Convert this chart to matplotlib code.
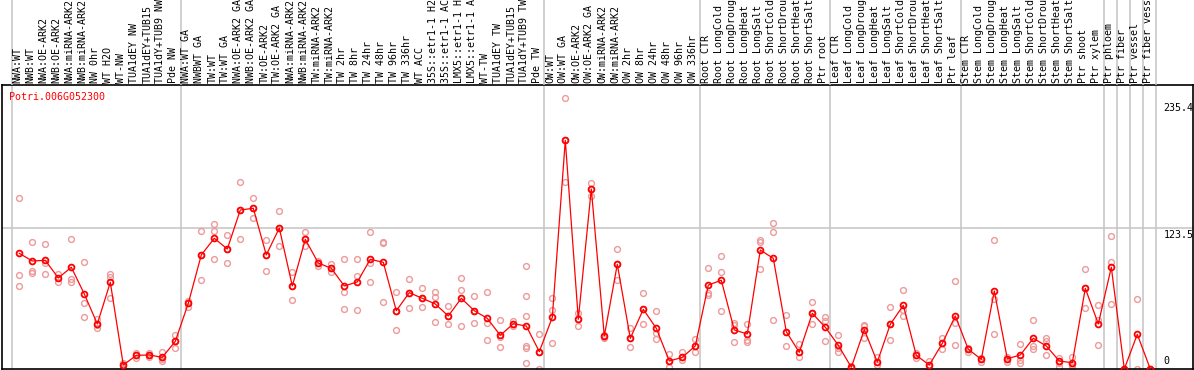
import matplotlib
matplotlib.use("Agg")
import matplotlib.pyplot as plt

gene = "Potri.006G052300"

labels = [
    "NWA:WT", "NWB:WT", "NWA:OE-ARK2", "NWB:OE-ARK2", "NWA:miRNA-ARK2",
    "NWB:miRNA-ARK2", "NW 0hr", "WT H2O", "WT-NW", "TUA1dEY NW",
    "TUA1dEY+TUB15", "TUA1dY+TUB9 NW", "Pde NW", "NWA:WT GA", "NWBWT GA",
    "TW:WT", "TW:WT GA", "NWA:OE-ARK2 GA", "NWB:OE-ARK2 GA", "TW:OE-ARK2",
    "TW:OE-ARK2 GA", "NWA:miRNA-ARK2", "NWB:miRNA-ARK2", "TW:miRNA-ARK2",
    "TW:miRNA-ARK2", "TW 2hr", "TW 8hr", "TW 24hr", "TW 48hr", "TW 96hr",
    "TW 336hr", "WT ACC", "35S::etr1-1 H2O", "35S::etr1-1 ACC",
    "LMX5::etr1-1 H2O", "LMX5::etr1-1 ACC", "WT-TW", "TUA1dEY TW",
    "TUA1dEY+TUB15", "TUA1dY+TUB9 TW", "Pde TW", "OW:WT", "OW:WT GA",
    "OW:OE-ARK2", "OW:OE-ARK2 GA", "OW:miRNA-ARK2", "OW:miRNA-ARK2",
    "OW 2hr", "OW 8hr", "OW 24hr", "OW 48hr", "OW 96hr", "OW 336hr",
    "Root CTR", "Root LongCold", "Root LongDrought", "Root LongHeat",
    "Root LongSalt", "Root ShortCold", "Root ShortDrought", "Root ShortHeat",
    "Root ShortSalt", "Ptr root", "Leaf CTR", "Leaf LongCold",
    "Leaf LongDrought", "Leaf LongHeat", "Leaf LongSalt", "Leaf ShortCold",
    "Leaf ShortDrought", "Leaf ShortHeat", "Leaf ShortSalt", "Ptr leaf",
    "Stem CTR", "Stem LongCold", "Stem LongDrought", "Stem LongHeat",
    "Stem LongSalt", "Stem ShortCold", "Stem ShortDrought", "Stem ShortHeat",
    "Stem ShortSalt", "Ptr shoot", "Ptr xylem", "Ptr phloem", "Ptr fiber",
    "Ptr vessel", "Ptr fiber vessel",
]

means = [
    101.4, 94.7, 95.3, 79.8, 89.2, 65.8, 39.5, 76.0, 3.5, 12.0,
    12.3, 10.2, 24.3, 57.6, 100.0, 114.6, 105.2, 139.4, 140.9, 100.0,
    123.6, 72.8, 113.7, 92.9, 88.3, 72.8, 76.3, 96.2, 93.5, 51.1,
    66.9, 62.0, 57.0, 46.5, 62.0, 51.1, 44.4, 29.5, 39.7, 37.7,
    15.2, 45.3, 200.5, 43.6, 157.8, 28.9, 91.8, 26.9, 52.3, 35.7,
    7.0, 10.2, 20.2, 73.6, 77.8, 34.2, 30.7, 104.3, 97.0, 32.7,
    14.6, 48.8, 36.6, 20.8, 1.5, 34.5, 6.1, 39.2, 55.8, 12.0,
    3.5, 22.5, 46.5, 17.3, 8.5, 68.4, 9.0, 12.3, 26.9, 20.2,
    7.0, 5.5, 70.7, 39.5, 89.2, 0.0, 30.4, 0.0,
]

reps = [
    [149.7, 82.4, 72.5], [111.1, 86.2, 84.5], [109.6, 93.2, 83.3],
    [83.3, 79.8, 76.3], [114.0, 78.9, 76.0], [93.8, 57.6, 45.3],
    [44.1, 39.0, 35.7], [83.3, 80.9, 62.0], [5.0, 3.5, 2.0],
    [13.7, 12.0, 9.4], [14.0, 12.3, 10.5], [14.5, 9.0, 7.0],
    [29.8, 24.5, 18.1], [59.9, 58.0, 54.1], [120.7, 100.0, 78.0],
    [127.1, 121.0, 96.2], [117.2, 105.5, 92.7], [163.7, 139.4, 113.7],
    [149.7, 140.9, 132.1], [112.8, 100.0, 85.9], [138.5, 123.6, 107.8],
    [84.8, 72.8, 60.5], [120.1, 113.7, 107.8], [95.0, 93.0, 90.6],
    [92.3, 88.3, 84.8], [96.2, 67.8, 52.3], [96.2, 81.5, 51.7],
    [119.8, 93.2, 76.3], [110.2, 111.6, 58.7], [67.2, 51.1, 34.2],
    [78.6, 66.9, 53.7], [70.7, 62.0, 54.6], [67.8, 63.4, 40.9],
    [55.2, 46.5, 39.2], [79.5, 69.3, 37.4], [64.0, 51.1, 40.1],
    [67.2, 40.6, 25.4], [43.0, 28.0, 19.6], [42.3, 39.7, 38.0],
    [90.3, 64.0, 46.5, 20.4, 18.1, 5.0], [30.4, 15.2, 0.0],
    [62.0, 51.7, 23.1], [237.6, 200.5, 163.7], [48.8, 43.6, 37.7],
    [163.1, 157.8, 151.4], [29.5, 28.3, 27.0], [104.9, 91.8, 78.0],
    [35.7, 26.9, 19.3], [66.4, 52.3, 39.2], [50.9, 31.3, 26.0],
    [13.2, 7.0, 2.0], [15.2, 10.2, 7.9], [26.3, 20.2, 15.2],
    [88.3, 66.4, 64.9], [99.1, 84.8, 50.9], [40.1, 39.0, 23.4],
    [39.2, 25.4, 23.4], [113.1, 111.1, 87.4], [127.7, 119.8, 43.0],
    [47.3, 32.7, 20.4], [21.6, 14.6, 10.8], [58.7, 48.8, 39.2],
    [45.3, 42.3, 24.5], [29.5, 18.0, 14.6], [3.0, 1.5, 0.5],
    [38.0, 38.5, 26.9], [10.8, 6.1, 3.5], [54.6, 39.2, 25.4],
    [69.3, 51.5, 46.5], [13.7, 12.0, 9.4], [7.0, 2.5, 2.0],
    [27.4, 22.5, 17.8], [77.2, 40.1, 20.8], [18.7, 17.3, 15.2],
    [9.9, 8.5, 6.4], [112.8, 61.1, 30.4], [10.8, 9.0, 6.4],
    [21.6, 7.9, 5.5], [43.0, 20.4, 17.3], [26.9, 24.5, 12.3],
    [9.9, 5.5, 2.0], [10.8, 3.5, 1.5], [87.4, 70.7, 53.2],
    [55.8, 43.0, 20.8], [116.3, 94.1, 56.7], [0.0, 0.0, 0.0],
    [61.4, 0.0], [0.0, 0.0, 0.0],
]

y_marks = [235.4, 123.5, 0]
# group separators sit just after these sample indices
separators = [-1, 12, 40, 52, 62, 72, 83, 84, 85, 86, 87]

mono = "DejaVu Sans Mono"
W, H = 1194, 370
fig = plt.figure(figsize=(W / 100, H / 100), dpi=100)

px_left, px_right = 1.5, 1192.5
ax = fig.add_axes([px_left / W, 1 / H, (px_right - px_left) / W, 284 / H])
hd = fig.add_axes([px_left / W, 285 / H, (px_right - px_left) / W, 85 / H], sharex=ax)

# one sample column = 13 px, first column centre at x = 19.3 px
ax.set_xlim((px_left - 19.3) / 13, (px_right - 19.3) / 13)
ax.set_ylim(0, 249)
hd.set_ylim(0, 1)
hd.axis("off")

ax.set_xticks([])
ax.set_yticks([])
for sp in ax.spines.values():
    sp.set_color("black")
    sp.set_linewidth(1.2)

for s in separators:
    ax.axvline(s + 0.4, color="#c4c4c4", lw=1.1, zorder=0)
    hd.axvline(s + 0.4, color="#c4c4c4", lw=1.1, zorder=0)
ax.axhline(123.5, color="#c4c4c4", lw=1.1, zorder=0)

x = list(range(len(means)))
for i, r in enumerate(reps):
    ax.plot([i] * len(r), r, "o", ms=4.2, mfc="none", mec="#ee9a9a", mew=1.0, zorder=2)
ax.plot(x, means, "-", color="red", lw=0.9, zorder=3)
ax.plot(x, means, "o", ms=4.2, mfc="none", mec="red", mew=1.3, zorder=4)

for i, lab in enumerate(labels):
    hd.annotate(lab, xy=(i, 0), xycoords=("data", "axes fraction"),
                xytext=(-1.3, 1.6), textcoords="offset points",
                rotation=90, ha="center", va="bottom",
                family=mono, fontsize=7.2, color="black")

fig.text(9.3 / W, 1 - 97 / H, gene, color="red", family=mono,
         fontsize=7.2, ha="left", va="center")

for v in y_marks:
    if v == 0:
        off, va = (0, 2.0), "bottom"
    else:
        off, va = (0, -1.6), "top"
    ax.annotate(f"{v:g}", xy=(1163.3 / W, v), xycoords=("figure fraction", "data"),
                xytext=off, textcoords="offset points",
                ha="left", va=va, family=mono, fontsize=7.2, color="black")

fig.savefig("out.png", dpi=100)
